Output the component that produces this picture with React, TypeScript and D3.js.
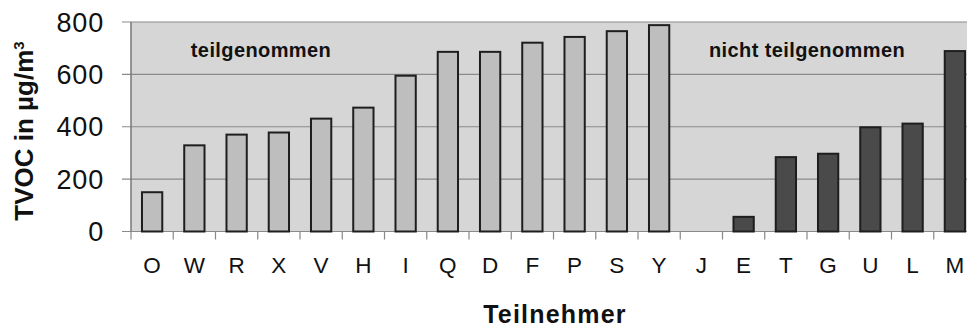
import React from "react";
import * as d3 from "d3";

const categories = ["O","W","R","X","V","H","I","Q","D","F","P","S","Y","J","E","T","G","U","L","M"];
const values = [150,329,370,378,431,473,595,686,686,721,743,765,788,0,56,284,297,398,412,689];
const participated = [1,1,1,1,1,1,1,1,1,1,1,1,1,0,0,0,0,0,0,0];
const yTicks = [0,200,400,600,800];
const groupLabels = ["teilgenommen","nicht teilgenommen"];

export default function App() {
  const W = 967, H = 327;
  const left = 131, right = 976, top = 22, bottom = 231.5;
  const x = d3.scaleBand<string>().domain(categories).range([left, right]).paddingInner(0.52).paddingOuter(0.26);
  const bandStep = (right - left) / categories.length;
  const y = d3.scaleLinear().domain([0, 800]).range([bottom, top]);
  const font = "Liberation Sans, Arial, Helvetica, sans-serif";
  return (
    <svg width={W} height={H} viewBox={`0 0 ${W} ${H}`} style={{ position: "absolute", left: 0, top: 0, background: "#fff" }}>
      <rect x={left} y={top} width={right - left} height={bottom - top} fill="#d6d6d6" />
      {yTicks.map((t) => (
        <g key={t}>
          <line x1={left - 9} x2={right} y1={y(t)} y2={y(t)} stroke="#8a8a8a" strokeWidth={1.2} />
          <text x={104} y={y(t)} dy="0.36em" textAnchor="end" fontFamily={font} fontSize={27} letterSpacing={0.8} fill="#111">{t}</text>
        </g>
      ))}
      <line x1={left} x2={left} y1={top} y2={bottom} stroke="#777" strokeWidth={1.5} />
      {d3.range(categories.length + 1).map((i) => (
        <line key={i} x1={left + i * bandStep} x2={left + i * bandStep} y1={bottom} y2={bottom + 8} stroke="#888" strokeWidth={1.2} />
      ))}
      {categories.map((c, i) => (
        values[i] > 0 ? (
          <rect key={c} x={x(c)!} y={y(values[i])} width={x.bandwidth()} height={bottom - y(values[i])}
            fill={participated[i] ? "#bebebe" : "#4a4a4a"} stroke="#1e1e1e" strokeWidth={2} />
        ) : null
      ))}
      {categories.map((c) => (
        <text key={c} x={x(c)! + x.bandwidth() / 2} y={273} textAnchor="middle" fontFamily={font} fontSize={22.5} fill="#111">{c}</text>
      ))}
      <text x={261} y={57} textAnchor="middle" fontFamily={font} fontSize={20} fontWeight="bold" letterSpacing={0.4} fill="#111">{groupLabels[0]}</text>
      <text x={807} y={57} textAnchor="middle" fontFamily={font} fontSize={20} fontWeight="bold" letterSpacing={0.4} fill="#111">{groupLabels[1]}</text>
      <text transform="translate(33,131) rotate(-90)" textAnchor="middle" fontFamily={font} fontSize={26} fontWeight="bold" fill="#111">
        TVOC in µg/m<tspan dy="-9" fontSize={15}>3</tspan>
      </text>
      <text x={555} y={323} textAnchor="middle" fontFamily={font} fontSize={25} fontWeight="bold" letterSpacing={1.2} fill="#111">Teilnehmer</text>
    </svg>
  );
}
